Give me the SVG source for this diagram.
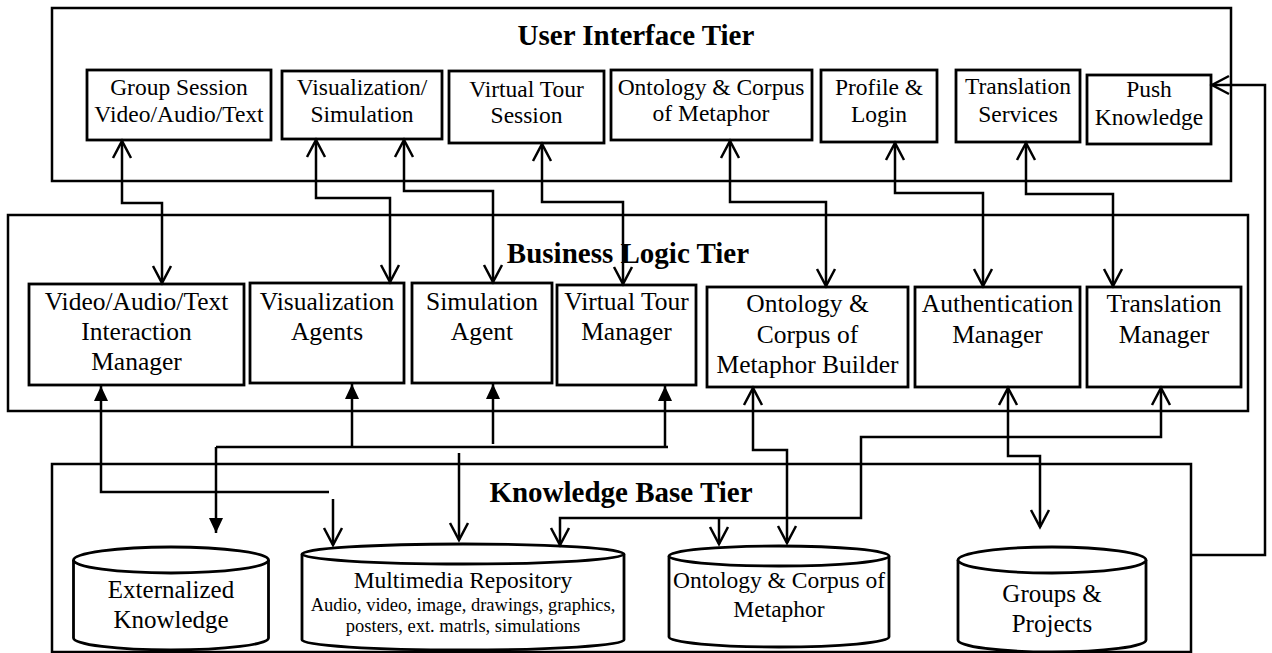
<svg xmlns="http://www.w3.org/2000/svg" width="1272" height="653" viewBox="0 0 1272 653">
<style>
.tier{fill:none;stroke:#000;stroke-width:2.5}
.box{fill:#fff;stroke:#000;stroke-width:2.8}
.cyl{fill:#fff;stroke:#000;stroke-width:2.8}
.title{font-family:"Liberation Serif","Times New Roman",serif;font-weight:bold;font-size:29px;text-anchor:middle;fill:#000}
.ui{font-family:"Liberation Serif","Times New Roman",serif;font-size:23.5px;text-anchor:middle;fill:#000}
.bl{font-family:"Liberation Serif","Times New Roman",serif;font-size:25.5px;text-anchor:middle;fill:#000}
.kb{font-family:"Liberation Serif","Times New Roman",serif;font-size:25px;text-anchor:middle;fill:#000}
.kbs{font-family:"Liberation Serif","Times New Roman",serif;font-size:18.5px;text-anchor:middle;fill:#000}
.con{fill:none;stroke:#000;stroke-width:2.5}
.bi{marker-start:url(#open);marker-end:url(#open)}
.oe{marker-end:url(#open)}
.fe{marker-end:url(#filled)}
</style>
<defs>
<marker id="open" viewBox="-20 -12 24 24" refX="0" refY="0" markerWidth="24" markerHeight="24" markerUnits="userSpaceOnUse" orient="auto-start-reverse" overflow="visible">
<path d="M-17,-9 L0,0 L-17,9" fill="none" stroke="#000" stroke-width="2.5"/>
</marker>
<marker id="filled" viewBox="-20 -12 24 24" refX="0" refY="0" markerWidth="24" markerHeight="24" markerUnits="userSpaceOnUse" orient="auto" overflow="visible">
<path d="M-15,-7 L0,0 L-15,7 Z" fill="#000"/>
</marker>
</defs>
<rect width="1272" height="653" fill="#fff"/>

<g id="tier-ui">
<rect class="tier" x="52" y="8" width="1179" height="173"/>
<text class="title" x="636" y="45">User Interface Tier</text>
</g>
<g id="tier-bl">
<rect class="tier" x="8" y="215" width="1240" height="196"/>
<text class="title" x="628" y="263">Business Logic Tier</text>
</g>
<g id="tier-kb">
<rect class="tier" x="52" y="464" width="1139" height="188"/>
<text class="title" x="621" y="502">Knowledge Base Tier</text>
</g>

<g id="ui-group-session">
<rect class="box" x="87" y="70" width="184" height="70"/>
<text class="ui" x="179" y="95">Group Session</text>
<text class="ui" x="179" y="122">Video/Audio/Text</text>
</g>
<g id="ui-vis-sim">
<rect class="box" x="282" y="71" width="160" height="68"/>
<text class="ui" x="362" y="95">Visualization/</text>
<text class="ui" x="362" y="122">Simulation</text>
</g>
<g id="ui-virtual-tour">
<rect class="box" x="449" y="71" width="155" height="72"/>
<text class="ui" x="526.5" y="97">Virtual Tour</text>
<text class="ui" x="526.5" y="123">Session</text>
</g>
<g id="ui-ontology">
<rect class="box" x="611" y="70" width="201" height="70"/>
<text class="ui" x="711" y="95">Ontology &amp; Corpus</text>
<text class="ui" x="711" y="121">of Metaphor</text>
</g>
<g id="ui-profile">
<rect class="box" x="821" y="70" width="116" height="72"/>
<text class="ui" x="879" y="95">Profile &amp;</text>
<text class="ui" x="879" y="122">Login</text>
</g>
<g id="ui-translation">
<rect class="box" x="956" y="70" width="124" height="72"/>
<text class="ui" x="1018" y="94">Translation</text>
<text class="ui" x="1018" y="122">Services</text>
</g>
<g id="ui-push">
<rect class="box" x="1087" y="75" width="124" height="69"/>
<text class="ui" x="1149" y="97">Push</text>
<text class="ui" x="1149" y="125">Knowledge</text>
</g>

<g id="bl-interaction">
<rect class="box" x="29" y="284" width="215" height="101"/>
<text class="bl" x="136.5" y="310">Video/Audio/Text</text>
<text class="bl" x="136.5" y="340">Interaction</text>
<text class="bl" x="136.5" y="370">Manager</text>
</g>
<g id="bl-vis-agents">
<rect class="box" x="250" y="283" width="154" height="100"/>
<text class="bl" x="327" y="310">Visualization</text>
<text class="bl" x="327" y="340">Agents</text>
</g>
<g id="bl-sim-agent">
<rect class="box" x="412" y="283" width="140" height="100"/>
<text class="bl" x="482" y="310">Simulation</text>
<text class="bl" x="482" y="340">Agent</text>
</g>
<g id="bl-tour-manager">
<rect class="box" x="557" y="285" width="139" height="100"/>
<text class="bl" x="626.5" y="310">Virtual Tour</text>
<text class="bl" x="626.5" y="340">Manager</text>
</g>
<g id="bl-ontology-builder">
<rect class="box" x="707" y="287" width="201" height="100"/>
<text class="bl" x="807.5" y="312">Ontology &amp;</text>
<text class="bl" x="807.5" y="343">Corpus of</text>
<text class="bl" x="807.5" y="373">Metaphor Builder</text>
</g>
<g id="bl-auth">
<rect class="box" x="915" y="287" width="165" height="100"/>
<text class="bl" x="997.5" y="312">Authentication</text>
<text class="bl" x="997.5" y="343">Manager</text>
</g>
<g id="bl-translation">
<rect class="box" x="1087" y="287" width="154" height="100"/>
<text class="bl" x="1164" y="312">Translation</text>
<text class="bl" x="1164" y="343">Manager</text>
</g>

<g id="kb-externalized">
<path class="cyl" d="M73.5,560 V638 A97.5,12 0 0 0 268.5,638 V560"/>
<ellipse class="cyl" cx="171" cy="560" rx="97.5" ry="13"/>
<text class="kb" x="171" y="598">Externalized</text>
<text class="kb" x="171" y="628">Knowledge</text>
</g>
<g id="kb-multimedia">
<path class="cyl" d="M302,554 V640 A161,10 0 0 0 624,640 V554"/>
<ellipse class="cyl" cx="463" cy="554" rx="161" ry="10"/>
<text class="kb" x="463" y="588" style="font-size:23.5px">Multimedia Repository</text>
<text class="kbs" x="463" y="611">Audio, video, image, drawings, graphics,</text>
<text class="kbs" x="463" y="632">posters, ext. matrls, simulations</text>
</g>
<g id="kb-ontology">
<path class="cyl" d="M669,556 V637 A110,10 0 0 0 889,637 V556"/>
<ellipse class="cyl" cx="779" cy="556" rx="110" ry="10"/>
<text class="kb" x="779" y="588" style="font-size:23.5px">Ontology &amp; Corpus of</text>
<text class="kb" x="779" y="617" style="font-size:23.5px">Metaphor</text>
</g>
<g id="kb-groups">
<path class="cyl" d="M958,560 V640 A94,12 0 0 0 1146,640 V560"/>
<ellipse class="cyl" cx="1052" cy="560" rx="94" ry="13"/>
<text class="kb" x="1052" y="602">Groups &amp;</text>
<text class="kb" x="1052" y="632">Projects</text>
</g>

<g id="connectors">
<path class="con bi" d="M122,141 V203 H162 V283"/>
<path class="con bi" d="M316,140 V198 H390 V282"/>
<path class="con bi" d="M404,140 V191 H493 V282"/>
<path class="con bi" d="M542,144 V202 H623 V284"/>
<path class="con bi" d="M730,141 V202 H826 V286"/>
<path class="con bi" d="M895,143 V193 H983 V286"/>
<path class="con bi" d="M1026,143 V194 H1113 V286"/>

<path class="con fe" d="M329,492 H101 V386"/>
<path class="con oe" d="M333,499 V545"/>

<path class="con" d="M216,447 H668"/>
<path class="con fe" d="M352,447 V384"/>
<path class="con fe" d="M493,444 V384"/>
<path class="con fe" d="M665,447 V386"/>
<path class="con fe" d="M216,447 V533"/>
<path class="con oe" d="M459,453 V540"/>

<path class="con bi" d="M753,388 V450 H787 V543"/>
<path class="con bi" d="M1008,388 V456 H1040 V527"/>
<path class="con bi" d="M1161,388 V437 H861 V518 H560 V545"/>
<path class="con oe" d="M719,518 V544"/>

<path class="con oe" d="M1191,555 H1265 V85 H1212"/>
</g>
</svg>
